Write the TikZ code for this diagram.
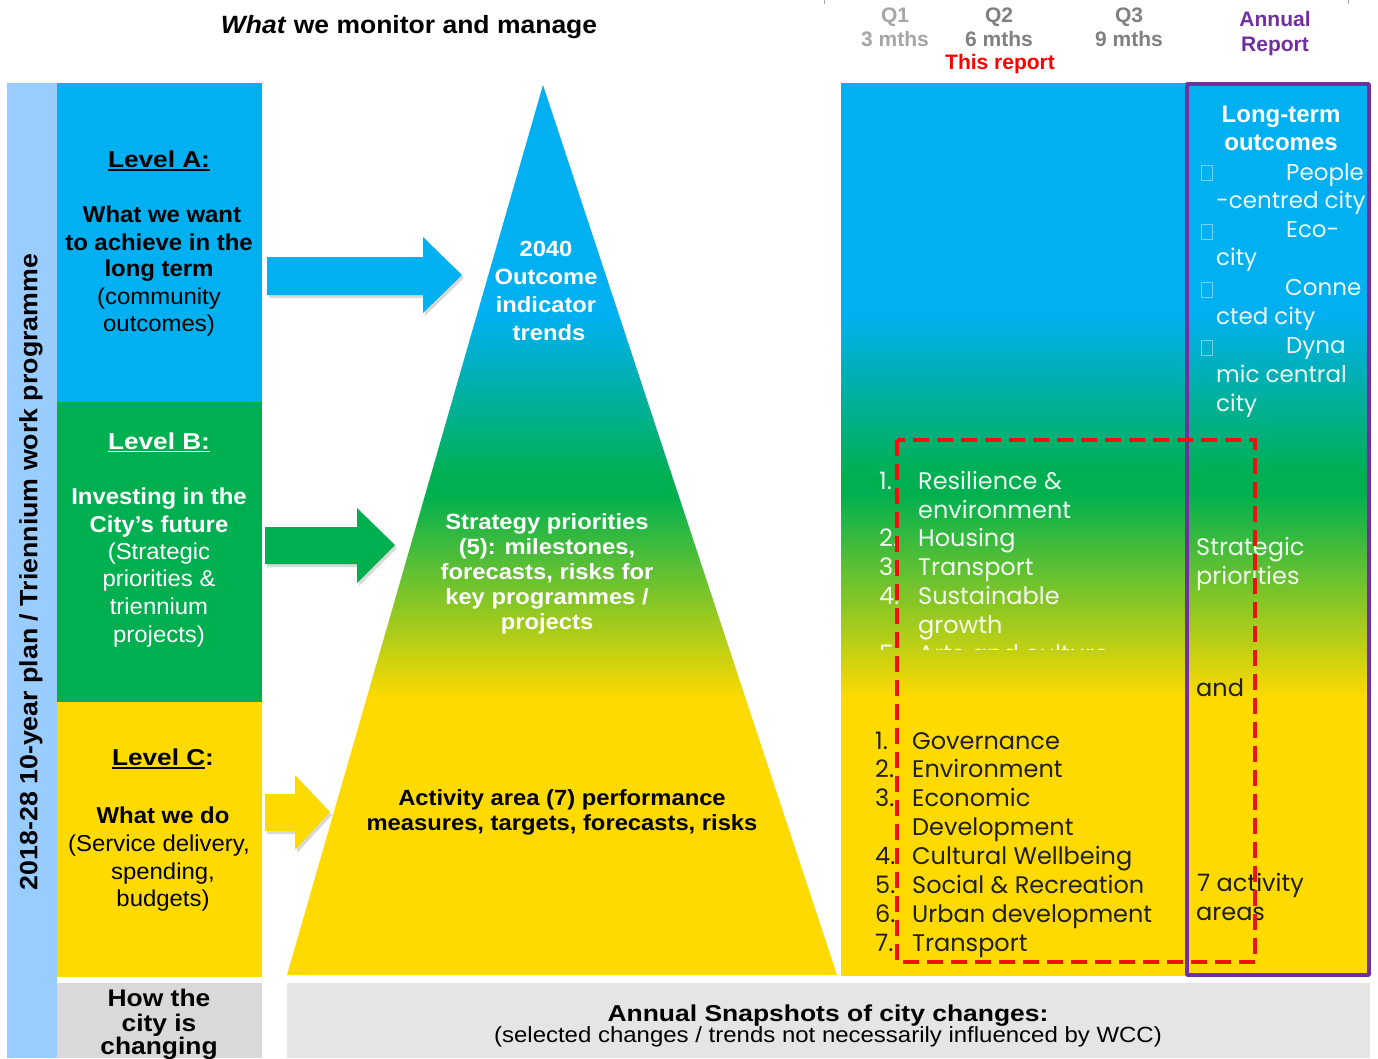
\documentclass[tikz,border=0pt]{standalone}
\usepackage{fontspec}
\setmainfont{Liberation Sans}
\newfontfamily\thinf{Poppins}
\usetikzlibrary{shadows}
\definecolor{cblue}{HTML}{00B0F0}
\definecolor{cgreen}{HTML}{00B050}
\definecolor{cyellow}{HTML}{FFDA00}
\definecolor{lblue}{HTML}{99CCFF}
\definecolor{cpurple}{HTML}{7030A0}
\definecolor{qgray}{HTML}{808080}
\definecolor{qlgray}{HTML}{A6A6A6}
\definecolor{bgray}{HTML}{E5E5E5}
\definecolor{dgray}{HTML}{D9D9D9}
\definecolor{cred}{HTML}{F01010}
\pgfdeclareverticalshading{pyr}{100bp}{color(0bp)=(cyellow); color(40.5bp)=(cyellow); color(52bp)=(cgreen); color(53bp)=(cgreen); color(62bp)=(cblue); color(100bp)=(cblue)}
\newcommand{\hs}[2]{\scalebox{#1}[1]{#2}}
\newcommand{\fs}[2]{\fontsize{#1}{#2}\selectfont}
\newcommand{\ulx}[1]{\setbox0\hbox{#1}\rlap{\rule[-3pt]{\wd0}{1.8pt}}\box0}
\begin{document}
\begin{tikzpicture}[x=1pt,y=-1pt,
  txt/.style={inner sep=0pt, anchor=base},
  lvl/.style={txt, font=\fs{23}{27}\bfseries},
  lb/.style={txt, font=\fs{23}{27}\bfseries},
  lr/.style={txt, font=\fs{23}{27}},
  qlab/.style={txt, font=\fs{21}{24}\bfseries},
  pyt/.style={txt, font=\fs{22}{25}\bfseries},
  thin/.style={inner sep=0pt, anchor=base west, font=\fs{24}{28}\thinf},
  thins/.style={inner sep=0pt, anchor=base west, font=\fs{23}{28}\thinf},
  arr/.style={drop shadow={shadow xshift=2pt, shadow yshift=-3pt, opacity=.3}}]
\useasboundingbox (0,0) rectangle (1378,1058);
\fill[white] (0,0) rectangle (1378,1058);
\draw[qlgray, line width=1pt] (824,0) -- (824,4) (1348,0) -- (1348,4);
% left column
\fill[lblue] (7,83) rectangle (57,1058);
\fill[cblue] (57,83) rectangle (262,402);
\fill[cgreen] (57,402) rectangle (262,702);
\fill[cyellow] (57,702) rectangle (262,977);
\fill[dgray] (57,983) rectangle (262,1058);
\fill[bgray] (287,983) rectangle (1370,1058);
% pyramid and right panel
\shade[shading=pyr] (543,85) -- (837,975) -- (287,975) -- cycle;
\shade[shading=pyr] (841,83) rectangle (1370,975);
% arrows
\fill[cblue, arr] (267,257) -- (423,257) -- (423,237) -- (462,275) -- (423,313) -- (423,295) -- (267,295) -- cycle;
\fill[cgreen, arr] (265,527) -- (357,527) -- (357,508) -- (395,545) -- (357,583) -- (357,564) -- (265,564) -- cycle;
\fill[cyellow, arr] (265,794) -- (295,794) -- (295,775) -- (330,812) -- (295,850) -- (295,831) -- (265,831) -- cycle;
% header
\node[txt, font=\fs{25}{30}\bfseries] (title) at (409,33) {\hs{1.06}{\textit{What} we monitor and manage}};
\node[qlab, qlgray] (q1a) at (895,22.7) {Q1};
\node[qlab, qlgray] (q1b) at (895,46) {3 mths};
\node[qlab, qgray] (q2a) at (999,22.7) {Q2};
\node[qlab, qgray] (q2b) at (999,46) {6 mths};
\node[qlab, red] (q2c) at (1000,69.5) {This report};
\node[qlab, qgray] (q3a) at (1129,22.7) {Q3};
\node[qlab, qgray] (q3b) at (1129,46) {9 mths};
\node[qlab, cpurple] (ara) at (1275,26.7) {Annual};
\node[qlab, cpurple] (arb) at (1275,51.7) {Report};
% vertical text
\node[rotate=90, inner sep=0pt, font=\fs{25}{30}\bfseries] (vt) at (31,572) {\hs{1.07}{2018-28 10-year plan / Triennium work programme}};
% Level A
\node[lvl] (lat) at (159,167.7) {\hs{1.14}{\ulx{Level A:}}};
\node[lb] (la1) at (162,222.7) {\hs{1.04}{What we want}};
\node[lb] (la2) at (159,250) {\hs{1.04}{to achieve in the}};
\node[lb] (la3) at (159,276.7) {\hs{1.04}{long term}};
\node[lr] (la4) at (159,304) {\hs{1.04}{(community}};
\node[lr] (la5) at (159,331.7) {\hs{1.04}{outcomes)}};
% Level B
\node[lvl, white] (lbt) at (159,449.3) {\hs{1.14}{\ulx{Level B:}}};
\node[lb, white] (lb1) at (159,504) {\hs{1.04}{Investing in the}};
\node[lb, white] (lb2) at (159,532) {\hs{1.04}{City’s future}};
\node[lr, white] (lb3) at (159,559.3) {\hs{1.04}{(Strategic}};
\node[lr, white] (lb4) at (159,586.7) {\hs{1.04}{priorities \&}};
\node[lr, white] (lb5) at (159,614.3) {\hs{1.04}{triennium}};
\node[lr, white] (lb6) at (159,642.3) {\hs{1.04}{projects)}};
% Level C
\node[lvl] (lct) at (163,765.7) {\hs{1.14}{\ulx{Level C}:}};
\node[lb] (lc1) at (163,823.3) {\hs{1.04}{What we do}};
\node[lr] (lc2) at (159,851.7) {\hs{1.04}{(Service delivery,}};
\node[lr] (lc3) at (163,879) {\hs{1.04}{spending,}};
\node[lr] (lc4) at (163,906.7) {\hs{1.04}{budgets)}};
% how the city is changing
\node[txt, font=\fs{24}{24}\bfseries] (hc1) at (159,1006.7) {\hs{1.1}{How the}};
\node[txt, font=\fs{24}{24}\bfseries] (hc2) at (159,1031) {\hs{1.1}{city is}};
\node[txt, font=\fs{24}{24}\bfseries] (hc3) at (159,1054) {\hs{1.1}{changing}};
\node[txt, font=\fs{23}{24}\bfseries] (as1) at (828,1021) {\hs{1.15}{Annual Snapshots of city changes:}};
\node[txt, font=\fs{22}{24}] (as2) at (828,1042.7) {\hs{1.09}{(selected changes / trends not necessarily influenced by WCC)}};
% pyramid text
\node[pyt, white] (p1) at (546,256) {\hs{1.08}{2040}};
\node[pyt, white] (p2) at (546,284) {\hs{1.08}{Outcome}};
\node[pyt, white] (p3) at (546,312) {\hs{1.08}{indicator}};
\node[pyt, white] (p4) at (549,340) {\hs{1.08}{trends}};
\node[pyt, white] (s1) at (547,529) {\hs{1.08}{Strategy priorities}};
\node[pyt, white] (s2) at (547,554) {\hs{1.08}{(5): milestones,}};
\node[pyt, white] (s3) at (547,579) {\hs{1.08}{forecasts, risks for}};
\node[pyt, white] (s4) at (547,604) {\hs{1.08}{key programmes /}};
\node[pyt, white] (s5) at (547,629) {\hs{1.08}{projects}};
\node[pyt] (a1) at (562,805) {\hs{1.08}{Activity area (7) performance}};
\node[pyt] (a2) at (562,830) {\hs{1.08}{measures, targets, forecasts, risks}};
% right panel: long-term outcomes
\node[txt, white, font=\fs{24}{28}\bfseries] (lt1) at (1281,122.7) {Long-term};
\node[txt, white, font=\fs{24}{28}\bfseries] (lt2) at (1281,150) {outcomes};
\foreach \yy in {165,224,282,340}
  \draw[white, opacity=.45, line width=.8pt] (1201,\yy) rectangle (1212,\yy+15);
\begin{scope}[every node/.style={thins, white, opacity=.92}]
\node (o1) at (1286,180) {People};
\node (o2) at (1216,208.3) {-centred city};
\node (o3) at (1286,237.3) {Eco-};
\node (o4) at (1216,265.7) {city};
\node (o5) at (1285,295) {Conne};
\node (o6) at (1216,324.3) {cted city};
\node (o7) at (1286,353.3) {Dyna};
\node (o8) at (1216,382.7) {mic central};
\node (o9) at (1216,411.7) {city};
\end{scope}
\begin{scope}[every node/.style={thin, white, opacity=.92}]
% strategic priorities list
\node (sn1) at (879,489.3) {1.};
\node (sn2) at (879,546.7) {2.};
\node (sn3) at (879,575.7) {3.};
\node (sn4) at (879,604.3) {4.};
\node (st1) at (918,489.3) {Resilience \&};
\node (st2) at (918,518.3) {environment};
\node (st3) at (918,546.7) {Housing};
\node (st4) at (918,575.7) {Transport};
\node (st5) at (918,604.3) {Sustainable};
\node (st6) at (918,633.3) {growth};
\node (rs1) at (1196,555) {Strategic};
\node (rs2) at (1196,584.5) {priorities};
\end{scope}
\begin{scope}
\clip (860,600) rectangle (1180,649.5);
\node[thin, white, opacity=.92] (sn5) at (879,662) {5.};
\node[thin, white, opacity=.92] (st7) at (918,662) {Arts and culture};
\end{scope}
% activity list
\begin{scope}[every node/.style={thin, black!88}]
\node (an1) at (875,749) {1.};
\node (an2) at (875,777.7) {2.};
\node (an3) at (875,806.7) {3.};
\node (an4) at (875,864.3) {4.};
\node (an5) at (875,893.3) {5.};
\node (an6) at (875,922.3) {6.};
\node (an7) at (875,951) {7.};
\node (at1) at (912,749) {Governance};
\node (at2) at (912,777.7) {Environment};
\node (at3) at (912,806.7) {Economic};
\node (at4) at (912,835.7) {Development};
\node (at5) at (912,864.3) {Cultural Wellbeing};
\node (at6) at (912,893.3) {Social \& Recreation};
\node (at7) at (912,922.3) {Urban development};
\node (at8) at (912,951) {Transport};
\node (ra1) at (1196,696) {and};
\node (ra2) at (1197,891) {7 activity};
\node (ra3) at (1196,920) {areas};
\end{scope}
% frames
\draw[cpurple, line width=3.5pt, line join=round] (1187,84) rectangle (1369,975);
\draw[cred, line width=4pt, dash pattern=on 16pt off 8pt] (897,440) rectangle (1255,962);
\end{tikzpicture}
\end{document}
